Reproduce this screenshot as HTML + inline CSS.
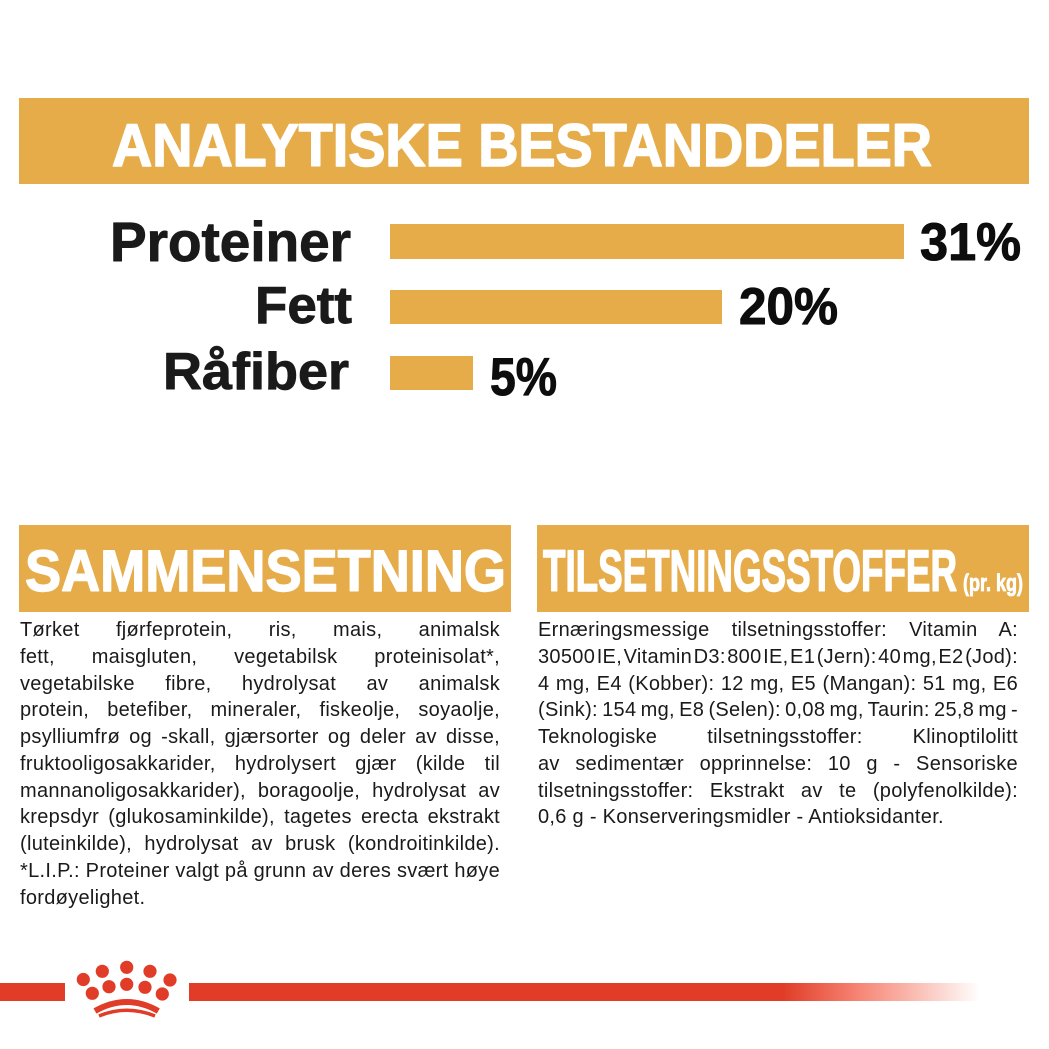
<!DOCTYPE html>
<html>
<head>
<meta charset="utf-8">
<style>
  html,body{margin:0;padding:0;background:#fff;}
  body{width:1049px;height:1049px;position:relative;overflow:hidden;}
  svg.bg{position:absolute;left:0;top:0;}
  .col{position:absolute;top:617px;width:480px;font-family:"Liberation Sans",sans-serif;font-size:20px;letter-spacing:0.3px;color:#1a1a1a;}
  .ln{width:480px;height:26.75px;line-height:26.75px;text-align:justify;text-align-last:justify;overflow:visible;}
  .ln.last{text-align:left;text-align-last:left;}
  .t2{word-spacing:-4.6px;}
  .t4{word-spacing:-2.3px;}
</style>
</head>
<body>
<svg class="bg" width="1049" height="1049" viewBox="0 0 1049 1049" xmlns="http://www.w3.org/2000/svg">
  <defs>
    <linearGradient id="fade" x1="189" y1="0" x2="980" y2="0" gradientUnits="userSpaceOnUse">
      <stop offset="0" stop-color="#E03C27"/>
      <stop offset="0.75" stop-color="#E03C27"/>
      <stop offset="0.84" stop-color="#F5806F"/>
      <stop offset="0.93" stop-color="#FBC6BE"/>
      <stop offset="1" stop-color="#FFFFFF"/>
    </linearGradient>
  </defs>

  <!-- Top banner -->
  <rect x="19" y="98" width="1010" height="86" fill="#E6AC4A"/>
  <text x="112" y="166" font-family="Liberation Sans, sans-serif" font-weight="bold" font-size="60" fill="#ffffff" stroke="#ffffff" stroke-width="1.6" stroke-linejoin="round" textLength="820" lengthAdjust="spacingAndGlyphs">ANALYTISKE BESTANDDELER</text>

  <!-- Labels -->
  <g font-family="Liberation Sans, sans-serif" font-weight="bold" fill="#1a1a1a" stroke="#1a1a1a" stroke-width="0.9" stroke-linejoin="round">
    <text x="110" y="261" font-size="56" textLength="241" lengthAdjust="spacingAndGlyphs">Proteiner</text>
    <text x="255" y="323" font-size="52" textLength="97" lengthAdjust="spacingAndGlyphs">Fett</text>
    <text x="163" y="389" font-size="52" textLength="186" lengthAdjust="spacingAndGlyphs">Råfiber</text>
  </g>

  <!-- Bars -->
  <rect x="390" y="224" width="514" height="35" fill="#E6AC4A"/>
  <rect x="390" y="290" width="332" height="34" fill="#E6AC4A"/>
  <rect x="390" y="356" width="83" height="34" fill="#E6AC4A"/>

  <!-- Percentages -->
  <g font-family="Liberation Sans, sans-serif" font-weight="bold" fill="#0d0d0d" stroke="#0d0d0d" stroke-width="1" stroke-linejoin="round">
    <text x="920" y="260" font-size="53" textLength="101" lengthAdjust="spacingAndGlyphs">31%</text>
    <text x="739" y="324" font-size="52" textLength="99" lengthAdjust="spacingAndGlyphs">20%</text>
    <text x="490" y="395" font-size="53" textLength="67" lengthAdjust="spacingAndGlyphs">5%</text>
  </g>

  <!-- Lower banners -->
  <rect x="19" y="525" width="492" height="87" fill="#E6AC4A"/>
  <text x="25" y="591" font-family="Liberation Sans, sans-serif" font-weight="bold" font-size="58" fill="#ffffff" stroke="#ffffff" stroke-width="1.4" stroke-linejoin="round" textLength="481" lengthAdjust="spacingAndGlyphs">SAMMENSETNING</text>

  <rect x="537" y="525" width="492" height="87" fill="#E6AC4A"/>
  <text x="543" y="591" font-family="Liberation Sans, sans-serif" font-weight="bold" font-size="58" fill="#ffffff" stroke="#ffffff" stroke-width="1.6" stroke-linejoin="round" textLength="414" lengthAdjust="spacingAndGlyphs">TILSETNINGSSTOFFER</text>
  <text x="963" y="591" font-family="Liberation Sans, sans-serif" font-weight="bold" font-size="24" fill="#ffffff" stroke="#ffffff" stroke-width="0.8" textLength="60" lengthAdjust="spacingAndGlyphs">(pr. kg)</text>

  <!-- Footer -->
  <rect x="0" y="983" width="65" height="18" fill="#E03C27"/>
  <rect x="189" y="983" width="791" height="18" fill="url(#fade)"/>
  <g fill="#E03C27">
    <circle cx="83.3" cy="979.5" r="6.6"/>
    <circle cx="102.3" cy="971.3" r="6.6"/>
    <circle cx="126.7" cy="967.3" r="6.6"/>
    <circle cx="150" cy="971.3" r="6.6"/>
    <circle cx="170" cy="980" r="6.6"/>
    <circle cx="92.3" cy="993.3" r="6.6"/>
    <circle cx="109" cy="986.7" r="6.6"/>
    <circle cx="126.7" cy="984.3" r="6.6"/>
    <circle cx="145" cy="987.3" r="6.6"/>
    <circle cx="162.3" cy="994" r="6.6"/>
  </g>
  <path d="M95 1011 Q126.7 993 158.3 1011" stroke="#E03C27" stroke-width="6" fill="none"/>
  <path d="M99 1016 Q126.7 1004.5 155 1016" stroke="#E03C27" stroke-width="3.6" fill="none"/>
</svg>

<div class="col" style="left:20px;">
  <div class="ln">Tørket fjørfeprotein, ris, mais, animalsk</div>
  <div class="ln">fett, maisgluten, vegetabilsk proteinisolat*,</div>
  <div class="ln">vegetabilske fibre, hydrolysat av animalsk</div>
  <div class="ln">protein, betefiber, mineraler, fiskeolje, soyaolje,</div>
  <div class="ln">psylliumfrø og -skall, gjærsorter og deler av disse,</div>
  <div class="ln">fruktooligosakkarider, hydrolysert gjær (kilde til</div>
  <div class="ln">mannanoligosakkarider), boragoolje, hydrolysat av</div>
  <div class="ln">krepsdyr (glukosaminkilde), tagetes erecta ekstrakt</div>
  <div class="ln">(luteinkilde), hydrolysat av brusk (kondroitinkilde).</div>
  <div class="ln">*L.I.P.: Proteiner valgt på grunn av deres svært høye</div>
  <div class="ln last">fordøyelighet.</div>
</div>

<div class="col" style="left:538px;">
  <div class="ln">Ernæringsmessige tilsetningsstoffer: Vitamin A:</div>
  <div class="ln t2">30500 IE, Vitamin D3: 800 IE, E1 (Jern): 40 mg, E2 (Jod):</div>
  <div class="ln">4 mg, E4 (Kobber): 12 mg, E5 (Mangan): 51 mg, E6</div>
  <div class="ln t4">(Sink): 154 mg, E8 (Selen): 0,08 mg, Taurin: 25,8 mg -</div>
  <div class="ln">Teknologiske tilsetningsstoffer: Klinoptilolitt</div>
  <div class="ln">av sedimentær opprinnelse: 10 g - Sensoriske</div>
  <div class="ln">tilsetningsstoffer: Ekstrakt av te (polyfenolkilde):</div>
  <div class="ln last">0,6 g - Konserveringsmidler - Antioksidanter.</div>
</div>

<script>
(function(){
  var W = 480;
  var lines = document.querySelectorAll('.ln');
  for (var i = 0; i < lines.length; i++) {
    var d = lines[i];
    if (d.className.indexOf('last') >= 0) continue;
    var m = document.createElement('span');
    m.style.position = 'absolute';
    m.style.visibility = 'hidden';
    m.style.whiteSpace = 'nowrap';
    m.textContent = d.textContent;
    d.appendChild(m);
    var w = m.getBoundingClientRect().width;
    d.removeChild(m);
    var n = (d.textContent.match(/ /g) || []).length;
    var cur = parseFloat(getComputedStyle(d).wordSpacing) || 0;
    if (n > 0 && w > W - 1) {
      d.style.wordSpacing = (cur + (W - w) / n - 0.3) + 'px';
    }
  }
})();
</script>
</body>
</html>
